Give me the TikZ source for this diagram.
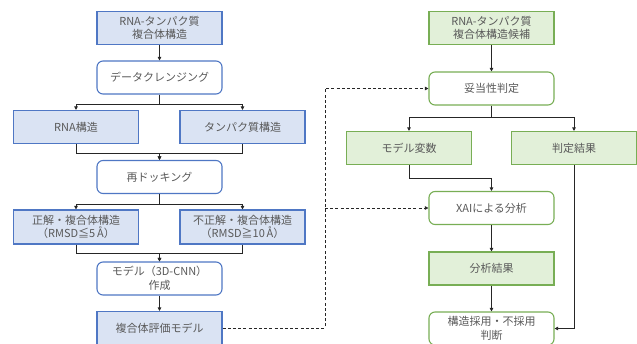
\documentclass[tikz,border=0pt]{standalone}
\usepackage{fontspec}
\newfontfamily\jp{Noto Sans CJK JP}
\usetikzlibrary{arrows.meta,calc}
\definecolor{bfill}{HTML}{DAE3F3}
\definecolor{bdraw}{HTML}{4F77C4}
\definecolor{gfill}{HTML}{E2F0D9}
\definecolor{gdraw}{HTML}{78AE55}
\definecolor{txt}{HTML}{595959}
\definecolor{ln}{HTML}{262626}
\tikzset{
  base/.style={minimum width=125pt,minimum height=33pt,line width=1.1pt,align=center,
    text=txt,font=\jp\fontsize{11}{13.5}\selectfont,inner sep=1pt},
  bbox/.style={base,draw=bdraw,fill=bfill},
  bround/.style={base,draw=bdraw,fill=white,rounded corners=6pt},
  gbox/.style={base,draw=gdraw,fill=gfill},
  ground/.style={base,draw=gdraw,fill=white,rounded corners=6pt},
  conn/.style={draw=ln,line width=0.8pt,-{Triangle[length=3.5pt,width=3.5pt]}},
  dconn/.style={conn,dash pattern=on 3pt off 2.2pt}
}
\begin{document}
\begin{tikzpicture}[x=1pt,y=-1pt]
\useasboundingbox (0,0) rectangle (637,343);
% left column
\node[bbox] (A) at (159.5,28) {RNA-タンパク質\\複合体構造};
\node[bround] (B) at (159.5,77.5) {データクレンジング};
\node[bbox] (R) at (76,127) {RNA構造};
\node[bbox] (P) at (242.5,127) {タンパク質構造};
\node[bround] (D) at (159.5,177) {再ドッキング};
\node[bbox,minimum height=34pt] (C) at (76,227) {正解・複合体構造\\（RMSD≦5\,Å）};
\node[bbox,minimum height=34pt] (I) at (242.5,227) {不正解・複合体構造\\（RMSD≧10\,Å）};
\node[bround] (M) at (159.5,278.5) {モデル（3D-CNN）\\作成};
\node[bbox] (E) at (159.5,328) {複合体評価モデル};
% right column
\node[gbox] (G) at (491.5,28) {RNA-タンパク質\\複合体構造候補};
\node[ground] (V) at (491.5,88.5) {妥当性判定};
\node[gbox] (F) at (409,148) {モデル変数};
\node[gbox] (J) at (574,148) {判定結果};
\node[ground] (X) at (491.5,208) {XAIによる分析};
\node[gbox] (K) at (491.5,268.5) {分析結果};
\node[ground] (S) at (491.5,328.5) {構造採用・不採用\\判断};
\coordinate (dx) at (325,0);
% connectors left
\draw[conn] (A) -- (B);
\draw[conn] (B.south) -- ++(0,10) -| (R.north);
\draw[conn] (B.south) -- ++(0,10) -| (P.north);
\draw[conn] (R.south) -- ++(0,9) -| (D.north);
\draw[conn] (P.south) -- ++(0,9) -| (D.north);
\draw[conn] (D.south) -- ++(0,10) -| (C.north);
\draw[conn] (D.south) -- ++(0,10) -| (I.north);
\draw[conn] (C.south) -- ++(0,9) -| (M.north);
\draw[conn] (I.south) -- ++(0,9) -| (M.north);
\draw[conn] (M) -- (E);
% connectors right
\draw[conn] (G) -- (V);
\draw[conn] (V.south) -- ++(0,12) -| (F.north);
\draw[conn] (V.south) -- ++(0,12) -| (J.north);
\draw[conn] (F.south) -- ++(0,13) -| (X.north);
\draw[conn] (X) -- (K);
\draw[conn] (K) -- (S);
\draw[conn] (J.south) |- (S.east);
% dashed
\draw[dconn] (E.east) -- (E.east -| dx) |- (V.west);
\draw[dconn] (X.west -| dx) -- (X.west);
\end{tikzpicture}
\end{document}
